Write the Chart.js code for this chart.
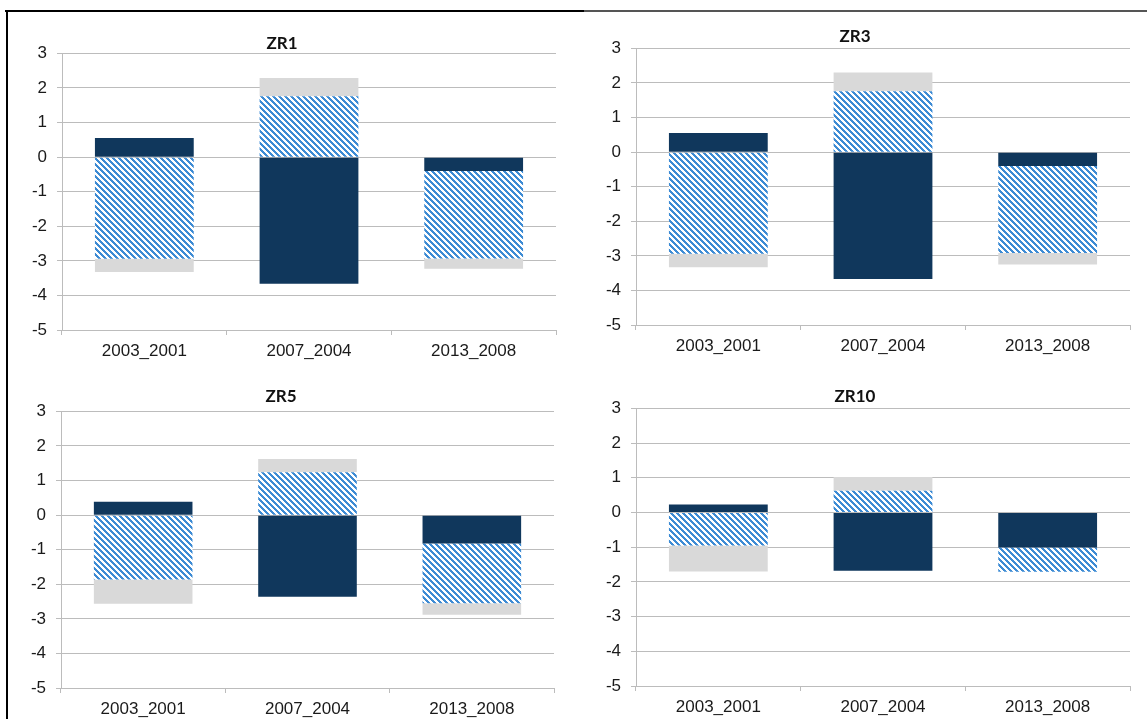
<!DOCTYPE html>
<html>
<head>
<meta charset="utf-8">
<script src="https://cdn.jsdelivr.net/npm/chart.js@4.4.1/dist/chart.umd.min.js"></script>
<style>
  body { margin: 0; background: #fff; }
  #page { position: relative; width: 1147px; height: 719px; overflow: hidden; background: #fff; }
  .topline1 { position: absolute; left: 5px; top: 10px; width: 579px; height: 2px; background: #000; }
  .topline2 { position: absolute; left: 584px; top: 10px; width: 563px; height: 2px; background: #555; }
  .leftline { position: absolute; left: 6px; top: 10px; width: 2px; height: 709px; background: #000; }
  canvas { position: absolute; }
</style>
</head>
<body>
<div id="page">
  <div class="topline1"></div>
  <div class="topline2"></div>
  <div class="leftline"></div>
  <canvas id="c1"></canvas>
  <canvas id="c3"></canvas>
  <canvas id="c5"></canvas>
  <canvas id="c10"></canvas>
</div>
<script>
// categories + values
const categories = ['2003_2001', '2007_2004', '2013_2008'];
const yMin = -5, yMax = 3;

const zr1Dark  = [0.55, -3.66, -0.40];
const zr1Hatch = [-2.94, 1.76, -2.53];
const zr1Gray  = [-0.38, 0.53, -0.30];

const zr3Dark  = [0.55, -3.67, -0.40];
const zr3Hatch = [-2.94, 1.76, -2.52];
const zr3Gray  = [-0.39, 0.54, -0.33];

const zr5Dark  = [0.39, -2.36, -0.82];
const zr5Hatch = [-1.86, 1.24, -1.73];
const zr5Gray  = [-0.70, 0.38, -0.33];

const zr10Dark  = [0.23, -1.68, -1.01];
const zr10Hatch = [-0.95, 0.63, -0.70];
const zr10Gray  = [-0.75, 0.39, 0];

const DARK = '#10375c';
const GRAY = '#d9d9d9';
const GRID = '#bcbcbc';

// diagonal stripes like excel's pattern fill
function makeHatch() {
  const p = 6;
  const tile = document.createElement('canvas');
  tile.width = p; tile.height = p;
  const g = tile.getContext('2d');
  g.fillStyle = '#fff';
  g.fillRect(0, 0, p, p);
  g.fillStyle = '#3d8bd4';
  for (let y = 0; y < p; y++) {
    for (let x = 0; x < p; x++) {
      if (((x - y) % p + p) % p < 3) g.fillRect(x, y, 1, 1);
    }
  }
  return tile;
}
const hatchTile = makeHatch();

// where each panel sits on the page
const panels = [
  { id: 'c1',  title: 'ZR1',  dark: zr1Dark,  hatch: zr1Hatch,  gray: zr1Gray,
    left: 8,   top: 18,  w: 560, h: 352, yW: 54, xH: 40, padR: 12, tTop: 15, tBot: 0 },
  { id: 'c3',  title: 'ZR3',  dark: zr3Dark,  hatch: zr3Hatch,  gray: zr3Gray,
    left: 580, top: 12,  w: 560, h: 358, yW: 56, xH: 45, padR: 10, tTop: 14, tBot: 2 },
  { id: 'c5',  title: 'ZR5',  dark: zr5Dark,  hatch: zr5Hatch,  gray: zr5Gray,
    left: 8,   top: 375, w: 560, h: 344, yW: 53, xH: 31, padR: 14, tTop: 11, tBot: 5 },
  { id: 'c10', title: 'ZR10', dark: zr10Dark, hatch: zr10Hatch, gray: zr10Gray,
    left: 580, top: 375, w: 560, h: 344, yW: 56, xH: 33, padR: 10, tTop: 11, tBot: 2 },
];

function makeChart(p) {
  const el = document.getElementById(p.id);
  el.style.left = p.left + 'px';
  el.style.top = p.top + 'px';
  el.width = p.w; el.height = p.h;
  el.style.width = p.w + 'px'; el.style.height = p.h + 'px';
  const ctx = el.getContext('2d');
  const hatch = ctx.createPattern(hatchTile, 'repeat');

  return new Chart(el, {
    type: 'bar',
    data: {
      labels: categories,
      datasets: [
        { label: 'a', data: p.dark,  backgroundColor: DARK },
        { label: 'b', data: p.hatch, backgroundColor: hatch },
        { label: 'c', data: p.gray,  backgroundColor: GRAY },
      ]
    },
    options: {
      responsive: false,
      animation: false,
      devicePixelRatio: 1,
      layout: { padding: { left: 0, right: p.padR, top: 0, bottom: 0 } },
      datasets: { bar: { barPercentage: 1, categoryPercentage: 0.6, borderWidth: 0 } },
      plugins: {
        legend: { display: false },
        tooltip: { enabled: false },
        title: {
          display: true,
          text: p.title,
          color: '#111',
          font: { family: 'Lato', size: 17, weight: 'bold', lineHeight: 1.2 },
          padding: { top: p.tTop, bottom: p.tBot }
        }
      },
      scales: {
        x: {
          stacked: true,
          grid: { offset: true, drawOnChartArea: false, drawTicks: true, tickLength: 5, color: GRID },
          border: { display: true, color: GRID, width: 1 },
          ticks: { color: '#1a1a1a', padding: 6, font: { family: 'Liberation Sans', size: 17 } },
          afterFit: (s) => { s.height = p.xH; }
        },
        y: {
          stacked: true,
          min: yMin, max: yMax,
          grid: { color: GRID, lineWidth: 1, drawTicks: true, tickLength: 5 },
          border: { display: true, color: GRID, width: 1 },
          ticks: { stepSize: 1, color: '#1a1a1a', padding: 10, font: { family: 'Liberation Sans', size: 17 } },
          afterFit: (s) => { s.width = p.yW; }
        }
      }
    }
  });
}

panels.forEach(makeChart);
</script>
</body>
</html>
